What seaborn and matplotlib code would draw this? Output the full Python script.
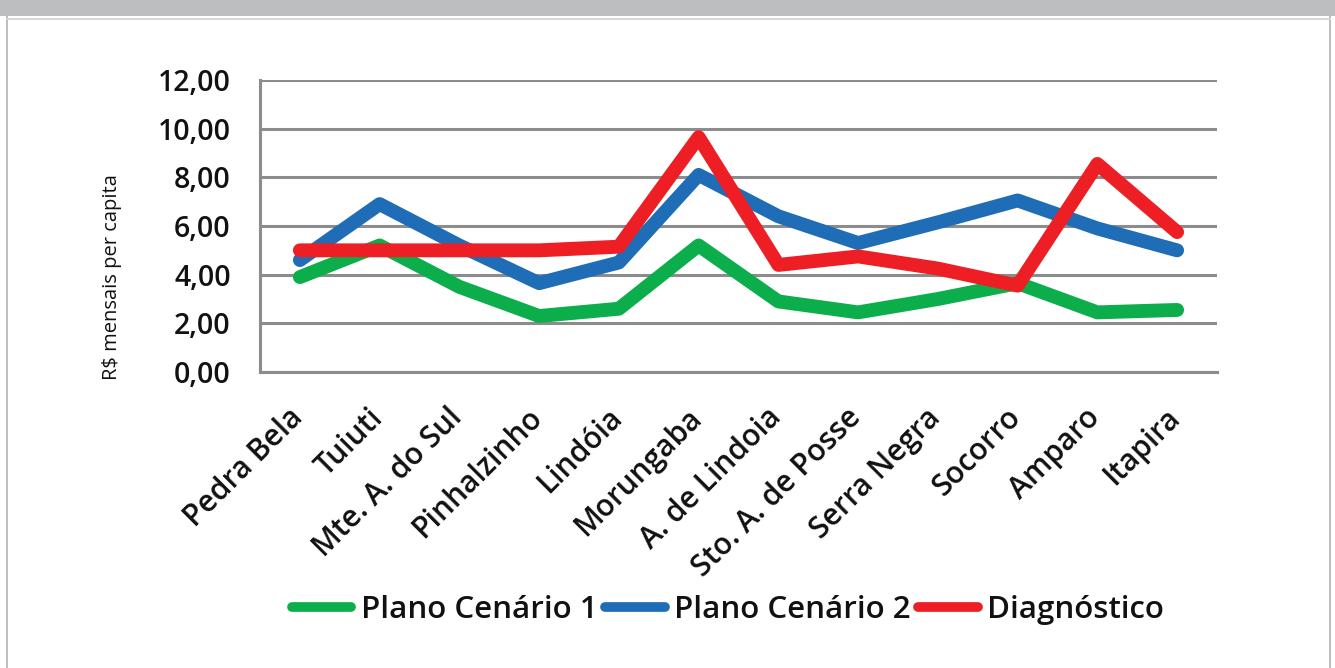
import matplotlib
matplotlib.use("Agg")
import matplotlib.pyplot as plt
import seaborn as sns
import pandas as pd
from matplotlib.patches import Rectangle
from matplotlib.ticker import FuncFormatter, FixedLocator

categories = ["Pedra Bela", "Tuiuti", "Mte. A. do Sul", "Pinhalzinho", "Lindóia",
              "Morungaba", "A. de Lindoia", "Sto. A. de Posse", "Serra Negra",
              "Socorro", "Amparo", "Itapira"]
plano1 = [3.9, 5.2, 3.5, 2.3, 2.6, 5.2, 2.9, 2.45, 3.0, 3.65, 2.45, 2.55]
plano2 = [4.6, 6.9, 5.2, 3.65, 4.5, 8.1, 6.4, 5.3, 6.15, 7.05, 5.9, 5.0]
diagnostico = [5.0, 5.0, 5.0, 5.0, 5.15, 9.65, 4.4, 4.75, 4.25, 3.55, 8.55, 5.75]
series_names = ["Plano Cenário 1", "Plano Cenário 2", "Diagnóstico"]
yticks = [0, 2, 4, 6, 8, 10, 12]

df = pd.DataFrame({
    "Município": categories * 3,
    "valor": plano1 + plano2 + diagnostico,
    "série": [series_names[0]] * 12 + [series_names[1]] * 12 + [series_names[2]] * 12,
})

sns.set_theme(style="white")
plt.rcParams['font.family'] = ['Open Sans', 'DejaVu Sans']

fig = plt.figure(figsize=(13.35, 6.68), dpi=100)
ax = fig.add_axes([260/1335, 1-372/668, (1217-260)/1335, (372-80)/668])

# frame decoration
border = "#BDBEC0"
fig.patches.append(Rectangle((0, 1-16/668), 1, 16/668, transform=fig.transFigure,
                             facecolor=border, edgecolor="none", zorder=0))
fig.patches.append(Rectangle((6/1335, 0), 2/1335, 1-16/668, transform=fig.transFigure,
                             facecolor=border, edgecolor="none", zorder=0))
fig.patches.append(Rectangle((1329/1335, 0), 2/1335, 1-16/668, transform=fig.transFigure,
                             facecolor=border, edgecolor="none", zorder=0))
fig.patches.append(Rectangle((6/1335, 1-20/668), 1325/1335, 2/668, transform=fig.transFigure,
                             facecolor="#D6D7D9", edgecolor="none", zorder=0))

palette = {series_names[0]: "#0BAE4A", series_names[1]: "#1E6DB6", series_names[2]: "#ED1F24"}
sns.lineplot(data=df, x="Município", y="valor", hue="série", palette=palette,
             hue_order=series_names, sort=False, linewidth=10, ax=ax,
             solid_capstyle="round", solid_joinstyle="round", zorder=3)

ax.set_xlim(-0.5, len(categories) - 0.5)
ax.set_ylim(0, 12)
ax.set_yticks(yticks)
ax.yaxis.set_major_formatter(FuncFormatter(lambda v, p: f"{v:.2f}".replace(".", ",")))
ax.grid(axis="y", color="#8C8C8C", linewidth=2.2, zorder=1)
ax.grid(axis="x", visible=False)
ax.set_axisbelow(True)

for s in ["top", "right"]:
    ax.spines[s].set_visible(False)
for s in ["left", "bottom"]:
    ax.spines[s].set_color("#8C8C8C")
    ax.spines[s].set_linewidth(2.2)

# label anchors nudged slightly left of the category centre (as in the original)
label_shift = 0.15
ax.set_xticks([i - label_shift for i in range(len(categories))])
ax.set_xticklabels(categories, rotation=45, ha="right", rotation_mode="anchor",
                   fontsize=21.5, fontweight="semibold", color="#111111")
ax.xaxis.set_minor_locator(FixedLocator([i - 0.5 for i in range(len(categories) + 1)]))
ax.tick_params(axis="x", which="major", length=0, pad=22)
ax.tick_params(axis="x", which="minor", length=10, width=2.2, color="#8C8C8C", direction="out")
ax.tick_params(axis="y", which="major", length=12, width=2.2, color="#8C8C8C", direction="out",
               labelsize=20.5, pad=9)
for t in ax.get_yticklabels():
    t.set_fontweight("semibold")
    t.set_color("#111111")

ax.set_xlabel("")
ax.set_ylabel("R$ mensais per capita", fontsize=14.5, color="#111111")
ax.yaxis.set_label_coords((122 - 260) / (1217 - 260), (372 - 277) / 292)

leg = ax.legend(loc="center", bbox_to_anchor=(728/1335, 1-610/668),
                bbox_transform=fig.transFigure, ncol=3, frameon=False,
                fontsize=22.5, handlelength=1.9, handletextpad=0.3, columnspacing=0.25,
                title=None)
for line in leg.get_lines():
    line.set_linewidth(7)
    line.set_solid_capstyle("round")
for t in leg.get_texts():
    t.set_fontweight("semibold")
    t.set_color("#111111")

fig.savefig("out.png", dpi=100, facecolor="white")
